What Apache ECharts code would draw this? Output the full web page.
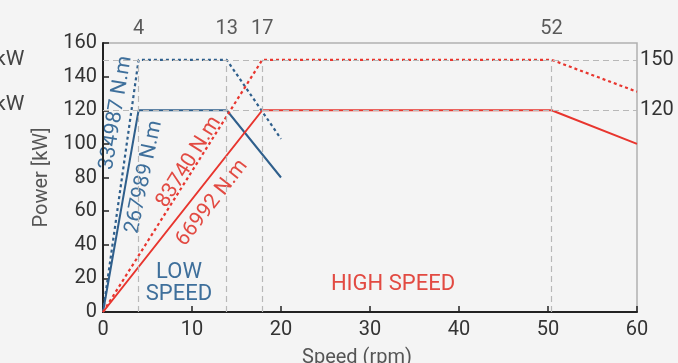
<!DOCTYPE html>
<html>
<head>
<meta charset="utf-8">
<script src="https://cdn.jsdelivr.net/npm/echarts@6/dist/echarts.min.js"></script>
<style>
  html, body { margin: 0; padding: 0; background: #f4f4f4; }
  #chart { width: 678px; height: 363px; }
</style>
</head>
<body>
<div id="chart"></div>
<script>
// Motor power envelopes: speed (rpm) vs power (kW)
const lowRatedSpeed  = [0, 4, 13.9, 20];
const lowRatedPower  = [0, 120, 120, 80];
const lowPeakSpeed   = [0, 4, 13.9, 20];
const lowPeakPower   = [0, 150, 150, 103];
const highRatedSpeed = [0, 17.9, 50.4, 60];
const highRatedPower = [0, 120, 120, 100];
const highPeakSpeed  = [0, 17.9, 50.4, 60];
const highPeakPower  = [0, 150, 150, 131];

// Corner speeds marked with guide lines, and their captions above the plot
const cornerSpeeds = [4, 13.9, 17.9, 50.4];
const cornerLabels = ['4', '13', '17', '52'];
// Power levels marked with horizontal guide lines
const powerLevels = [150, 120];

const BLUE = '#2f5f8c';
const BLUE_TEXT = '#3e6f9b';
const RED = '#e8352e';
const RED_TEXT = '#e24a42';
const FONT = 'Roboto';

const pairs = (xs, ys) => xs.map((x, i) => [x, ys[i]]);

const chart = echarts.init(document.getElementById('chart'), null, { renderer: 'canvas' });

const guideStyle = { color: '#b8b8b8', width: 1.2, type: [6, 4] };

chart.setOption({
  backgroundColor: '#f4f4f4',
  animation: false,
  textStyle: { fontFamily: FONT },
  grid: {
    left: 103, right: 41, top: 43, bottom: 51,
    containLabel: false, outerBoundsMode: 'none',
    show: true, borderColor: '#b0b0b0', borderWidth: 1.5, backgroundColor: 'transparent'
  },
  xAxis: {
    type: 'value', min: 0, max: 60, interval: 10,
    name: 'Speed (rpm)', nameLocation: 'middle', nameGap: 36,
    nameTextStyle: { fontSize: 20, color: '#555', fontFamily: FONT, padding: [0, 26, 0, 0] },
    axisLine: { show: true, lineStyle: { color: '#222', width: 2 } },
    axisTick: { show: true, inside: true, length: 6, lineStyle: { color: '#222', width: 1.5 } },
    axisLabel: { fontSize: 20, color: '#333', margin: 8, fontFamily: FONT },
    splitLine: { show: false }
  },
  yAxis: {
    type: 'value', min: 0, max: 160, interval: 20,
    name: 'Power [kW]', nameLocation: 'middle', nameGap: 45,
    nameTextStyle: { fontSize: 20, color: '#555', fontFamily: FONT },
    axisLine: { show: true, lineStyle: { color: '#222', width: 2 } },
    axisTick: { show: true, inside: true, length: 6, lineStyle: { color: '#222', width: 1.5 } },
    axisLabel: { fontSize: 20, color: '#333', margin: 6, fontFamily: FONT },
    splitLine: { show: false }
  },
  series: [
    {
      // guide lines and their captions
      type: 'scatter',
      data: cornerSpeeds.map((s, i) => ({ value: [s, 160], name: cornerLabels[i] })),
      symbolSize: 0,
      clip: false,
      silent: true,
      label: {
        show: true, position: 'top', distance: 4,
        formatter: p => p.name,
        fontSize: 20, color: '#333', fontFamily: FONT
      },
      markLine: {
        silent: true, symbol: 'none',
        lineStyle: guideStyle,
        data: [
          ...cornerSpeeds.map(s => [{ coord: [s, 0] }, { coord: [s, 150] }]),
          ...powerLevels.map(p => [
            { coord: [0, p] },
            { coord: [60, p], label: { show: true, position: 'end', formatter: String(p),
                fontSize: 20, color: '#333', fontFamily: FONT, distance: 3 } }
          ])
        ],
        label: { show: false }
      },
      z: 1
    },
    {
      name: 'Low speed peak', type: 'line', data: pairs(lowPeakSpeed, lowPeakPower),
      symbol: 'none', lineStyle: { color: BLUE, width: 2.2, type: [3, 3] }, z: 3
    },
    {
      name: 'Low speed rated', type: 'line', data: pairs(lowRatedSpeed, lowRatedPower),
      symbol: 'none', lineStyle: { color: BLUE, width: 2 }, z: 3
    },
    {
      name: 'High speed peak', type: 'line', data: pairs(highPeakSpeed, highPeakPower),
      symbol: 'none', lineStyle: { color: RED, width: 2.2, type: [3, 3] }, z: 3
    },
    {
      name: 'High speed rated', type: 'line', data: pairs(highRatedSpeed, highRatedPower),
      symbol: 'none', lineStyle: { color: RED, width: 2 }, z: 3
    }
  ],
  graphic: [
    { type: 'text', x: 116, y: 113, rotation: 80.5 * Math.PI / 180,
      style: { text: '334987 N.m', fill: BLUE_TEXT, font: '21px ' + FONT, align: 'center', verticalAlign: 'middle' } },
    { type: 'text', x: 144, y: 177, rotation: 78 * Math.PI / 180,
      style: { text: '267989 N.m', fill: BLUE_TEXT, font: '21px ' + FONT, align: 'center', verticalAlign: 'middle' } },
    { type: 'text', x: 189, y: 162, rotation: 58 * Math.PI / 180,
      style: { text: '83740 N.m', fill: RED_TEXT, font: '21px ' + FONT, align: 'center', verticalAlign: 'middle' } },
    { type: 'text', x: 212, y: 203, rotation: 52 * Math.PI / 180,
      style: { text: '66992 N.m', fill: RED_TEXT, font: '21px ' + FONT, align: 'center', verticalAlign: 'middle' } },
    { type: 'text', x: 179, y: 283,
      style: { text: 'LOW\nSPEED', fill: BLUE_TEXT, font: '22px ' + FONT, align: 'center', verticalAlign: 'middle', lineHeight: 22 } },
    { type: 'text', x: 393, y: 284,
      style: { text: 'HIGH SPEED', fill: RED_TEXT, font: '22px ' + FONT, align: 'center', verticalAlign: 'middle' } },
    { type: 'text', x: -5, y: 60,
      style: { text: 'kW', fill: '#444', font: '21px ' + FONT, align: 'left', verticalAlign: 'middle' } },
    { type: 'text', x: -5, y: 105,
      style: { text: 'kW', fill: '#444', font: '21px ' + FONT, align: 'left', verticalAlign: 'middle' } }
  ]
});
</script>
</body>
</html>
